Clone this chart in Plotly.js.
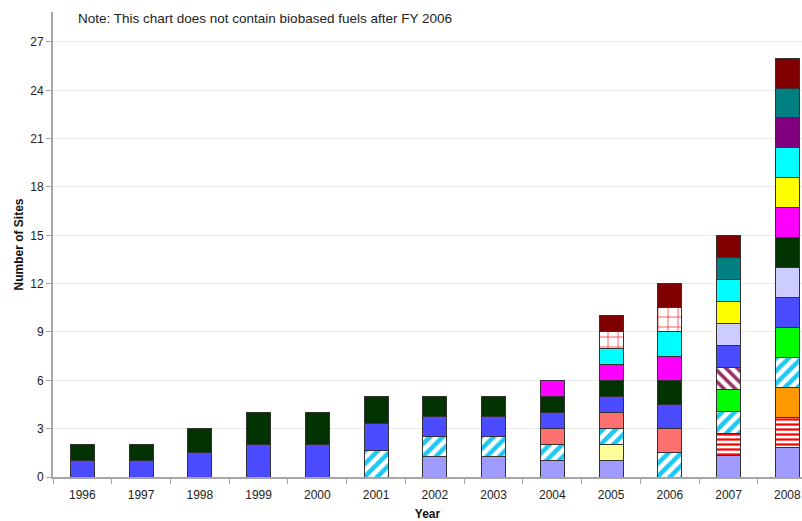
<!DOCTYPE html>
<html>
<head>
<meta charset="utf-8">
<script src="https://cdn.plot.ly/plotly-3.0.1.min.js"></script>
<style>html,body{margin:0;padding:0;background:#fff;}#chart{width:802px;height:521px;}</style>
</head>
<body>
<div id="chart"></div>
<script>
const years = ['1996','1997','1998','1999','2000','2001','2002','2003','2004','2005','2006','2007','2008'];
const yTicks = [0,3,6,9,12,15,18,21,24,27];
const noteText = 'Note: This chart does not contain biobased fuels after FY 2006';

// one array per stacked segment series (bottom to top), null = not present
const sLavender    = [null,null,null,null,null,null,1.25,1.25,1,1,null,1.364,1.857];
const sLightYellow = [null,null,null,null,null,null,null,null,null,1,null,null,null];
const sRedStripe   = [null,null,null,null,null,null,null,null,null,null,null,1.364,1.857];
const sOrange      = [null,null,null,null,null,null,null,null,null,null,null,null,1.857];
const sCyanHatch   = [null,null,null,null,null,1.67,1.25,1.25,1,1,1.5,1.364,1.857];
const sSalmon      = [null,null,null,null,null,null,null,null,1,1,1.5,null,null];
const sGreen       = [null,null,null,null,null,null,null,null,null,null,null,1.364,1.857];
const sPurpleDiag  = [null,null,null,null,null,null,null,null,null,null,null,1.364,null];
const sBlue        = [1,1,1.5,2,2,1.67,1.25,1.25,1,1,1.5,1.364,1.857];
const sLightLav    = [null,null,null,null,null,null,null,null,null,null,null,1.364,1.857];
const sDarkGreen   = [1,1,1.5,2,2,1.66,1.25,1.25,1,1,1.5,null,1.857];
const sMagenta     = [null,null,null,null,null,null,null,null,1,1,1.5,null,1.857];
const sYellow      = [null,null,null,null,null,null,null,null,null,null,null,1.364,1.857];
const sCyan        = [null,null,null,null,null,null,null,null,null,1,1.5,1.364,1.857];
const sRedGrid     = [null,null,null,null,null,null,null,null,null,1,1.5,null,null];
const sPurple      = [null,null,null,null,null,null,null,null,null,null,null,null,1.857];
const sTeal        = [null,null,null,null,null,null,null,null,null,null,null,1.364,1.857];
const sDarkRed     = [null,null,null,null,null,null,null,null,null,1,1.5,1.36,1.857];

const seriesDefs = [
  {name:'Lavender', y:sLavender, color:'#A09BFF'},
  {name:'Light yellow', y:sLightYellow, color:'#FFFF99'},
  {name:'Red stripe', y:sRedStripe, color:'#FF0000', pattern:{shape:'-', size:5, solidity:0.45}},
  {name:'Orange', y:sOrange, color:'#FF9900'},
  {name:'Cyan hatch', y:sCyanHatch, color:'#1EC8F5', pattern:{shape:'/', size:9, solidity:0.5}},
  {name:'Salmon', y:sSalmon, color:'#FF7070'},
  {name:'Green', y:sGreen, color:'#00FF00'},
  {name:'Purple diagonal', y:sPurpleDiag, color:'#993366', pattern:{shape:'\\', size:8, solidity:0.45}},
  {name:'Blue', y:sBlue, color:'#4B4BFF'},
  {name:'Light lavender', y:sLightLav, color:'#CCCCFF'},
  {name:'Dark green', y:sDarkGreen, color:'#003300'},
  {name:'Magenta', y:sMagenta, color:'#FF00FF'},
  {name:'Yellow', y:sYellow, color:'#FFFF00'},
  {name:'Cyan', y:sCyan, color:'#00FFFF'},
  {name:'Red grid', y:sRedGrid, color:'#FF0000', pattern:{shape:'+', size:10, solidity:0.12}},
  {name:'Purple', y:sPurple, color:'#800080'},
  {name:'Teal', y:sTeal, color:'#008080'},
  {name:'Dark red', y:sDarkRed, color:'#800000'}
];

const traces = seriesDefs.map(d => {
  const marker = {line:{color:'#333333', width:1}};
  if (d.pattern) {
    marker.color = '#FFFFFF';
    marker.pattern = Object.assign({fgcolor:d.color, bgcolor:'#FFFFFF', fillmode:'replace'}, d.pattern);
  } else {
    marker.color = d.color;
  }
  return {type:'bar', name:d.name, x:years, y:d.y, marker:marker, hoverinfo:'y+name'};
});

const layout = {
  width:802, height:521,
  margin:{l:53, r:0, t:12, b:44},
  barmode:'stack',
  bargap:0.59,
  showlegend:false,
  paper_bgcolor:'#FFFFFF',
  plot_bgcolor:'#FFFFFF',
  font:{family:'Liberation Sans, Arial, sans-serif', size:12, color:'#222'},
  xaxis:{
    type:'category',
    range:[-0.5, 12.25],
    showline:true, linecolor:'#A6A6A6', linewidth:2,
    ticks:'outside', tickson:'boundaries', ticklen:5, tickcolor:'#A6A6A6',
    ticklabelstandoff:6,
    showgrid:false,
    tickfont:{size:12, color:'#222'},
    title:{text:'<b>Year</b>', font:{size:12, color:'#111'}, standoff:15}
  },
  yaxis:{
    range:[0, 28.86],
    tickvals:yTicks,
    ticktext:yTicks.map(String),
    showline:true, linecolor:'#A6A6A6', linewidth:2,
    ticks:'outside', ticklen:5, tickcolor:'#A6A6A6',
    showgrid:true, gridcolor:'#EBEBEB', gridwidth:1,
    zeroline:false,
    tickfont:{size:12, color:'#222'},
    title:{text:'<b>Number of Sites</b>', font:{size:12, color:'#111'}, standoff:4}
  },
  annotations:[{
    text:noteText, xref:'paper', yref:'paper', x:0.031, y:0.985,
    xanchor:'left', yanchor:'middle', showarrow:false,
    font:{size:13.5, color:'#222'}
  }]
};

Plotly.newPlot('chart', traces, layout, {displayModeBar:false, staticPlot:true});
</script>
</body>
</html>
